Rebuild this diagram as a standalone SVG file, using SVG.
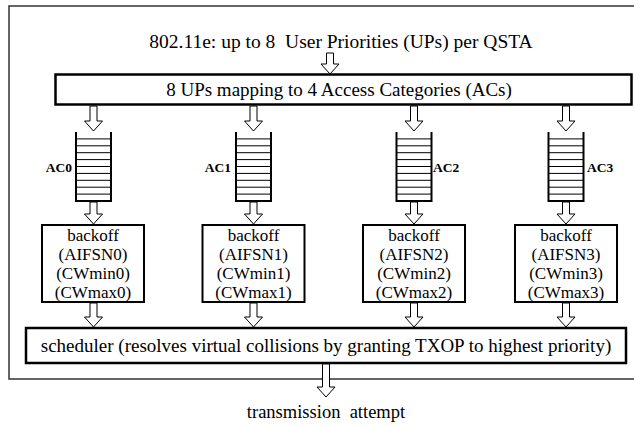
<svg xmlns="http://www.w3.org/2000/svg" width="634" height="427" viewBox="0 0 634 427">
<style>
.t{font-family:"Liberation Serif","Times New Roman",serif;fill:#000;text-anchor:middle}
.big{font-size:19px}
.mid{font-size:17px}
.lab{font-size:13.5px;font-weight:bold}
.box{fill:#fff;stroke:#000;stroke-width:2.5}
.bo{fill:#fff;stroke:#000;stroke-width:2}
.arr{fill:#fff;stroke:#000;stroke-width:1}
.qs{fill:none;stroke:#000;stroke-width:2}
.ql{stroke:#000;stroke-width:1}
</style>
<rect x="9" y="6" width="640" height="373" fill="none" stroke="#333" stroke-width="1.5"/>
<g id="title"><text class="t" style="font-size:19.5px" x="341" y="48">802.11e: up to 8&#160; User Priorities (UPs) per QSTA</text></g>
<g id="mapping"><rect class="box" x="55.5" y="74.5" width="576" height="30"/><text class="t big" x="339" y="96">8 UPs mapping to 4 Access Categories (ACs)</text></g>
<defs>
<g id="queue">
<path class="qs" d="M-17.5,0 V69 H17.5 V0"/>
<path class="ql" d="M-17.5,6.9 H17.5 M-17.5,13.8 H17.5 M-17.5,20.7 H17.5 M-17.5,27.6 H17.5 M-17.5,34.5 H17.5 M-17.5,41.4 H17.5 M-17.5,48.3 H17.5 M-17.5,55.2 H17.5 M-17.5,62.1 H17.5"/>
</g>
</defs>
<g id="ac0"><use href="#queue" x="93.5" y="132"/><text class="t lab" x="72" y="172" style="text-anchor:end">AC0</text></g>
<g id="ac1"><use href="#queue" x="253.5" y="132"/><text class="t lab" x="231" y="172" style="text-anchor:end">AC1</text></g>
<g id="ac2"><use href="#queue" x="414" y="132"/><text class="t lab" x="433" y="172" style="text-anchor:start">AC2</text></g>
<g id="ac3"><use href="#queue" x="566" y="132"/><text class="t lab" x="587" y="172" style="text-anchor:start">AC3</text></g>
<g id="backoff0"><rect class="bo" x="42" y="225" width="102" height="77"/><text class="t mid" x="93" y="241">backoff</text><text class="t mid" x="93" y="260">(AIFSN0)</text><text class="t mid" x="93" y="279">(CWmin0)</text><text class="t mid" x="93" y="298">(CWmax0)</text></g>
<g id="backoff1"><rect class="bo" x="202.5" y="225" width="102" height="77"/><text class="t mid" x="253.5" y="241">backoff</text><text class="t mid" x="253.5" y="260">(AIFSN1)</text><text class="t mid" x="253.5" y="279">(CWmin1)</text><text class="t mid" x="253.5" y="298">(CWmax1)</text></g>
<g id="backoff2"><rect class="bo" x="363" y="225" width="102" height="77"/><text class="t mid" x="414" y="241">backoff</text><text class="t mid" x="414" y="260">(AIFSN2)</text><text class="t mid" x="414" y="279">(CWmin2)</text><text class="t mid" x="414" y="298">(CWmax2)</text></g>
<g id="backoff3"><rect class="bo" x="515" y="225" width="102" height="77"/><text class="t mid" x="566" y="241">backoff</text><text class="t mid" x="566" y="260">(AIFSN3)</text><text class="t mid" x="566" y="279">(CWmin3)</text><text class="t mid" x="566" y="298">(CWmax3)</text></g>
<g id="scheduler"><rect class="box" x="26" y="328" width="600" height="35"/><text class="t big" x="326" y="352">scheduler (resolves virtual collisions by granting TXOP to highest priority)</text></g>
<g id="output"><text class="t" style="font-size:18.5px" x="326" y="418">transmission&#160; attempt</text></g>
<g id="connectors">
<polygon class="arr" points="326.5,53 333.5,53 333.5,64 339,64 330,74 321,64 326.5,64"/>
<polygon class="arr" points="90,106 97,106 97,121 102.5,121 93.5,131 84.5,121 90,121"/>
<polygon class="arr" points="250,106 257,106 257,121 262.5,121 253.5,131 244.5,121 250,121"/>
<polygon class="arr" points="410.5,106 417.5,106 417.5,121 423,121 414,131 405,121 410.5,121"/>
<polygon class="arr" points="562.5,106 569.5,106 569.5,121 575,121 566,131 557,121 562.5,121"/>
<polygon class="arr" points="90,202 97,202 97,214 102.5,214 93.5,224 84.5,214 90,214"/>
<polygon class="arr" points="250,202 257,202 257,214 262.5,214 253.5,224 244.5,214 250,214"/>
<polygon class="arr" points="410.5,202 417.5,202 417.5,214 423,214 414,224 405,214 410.5,214"/>
<polygon class="arr" points="562.5,202 569.5,202 569.5,214 575,214 566,224 557,214 562.5,214"/>
<polygon class="arr" points="90,303 97,303 97,317 102.5,317 93.5,327 84.5,317 90,317"/>
<polygon class="arr" points="250,303 257,303 257,317 262.5,317 253.5,327 244.5,317 250,317"/>
<polygon class="arr" points="410.5,303 417.5,303 417.5,317 423,317 414,327 405,317 410.5,317"/>
<polygon class="arr" points="562.5,303 569.5,303 569.5,317 575,317 566,327 557,317 562.5,317"/>
<polygon class="arr" points="322.5,364 329.5,364 329.5,387 335,387 326,397 317,387 322.5,387"/>
</g>
</svg>
